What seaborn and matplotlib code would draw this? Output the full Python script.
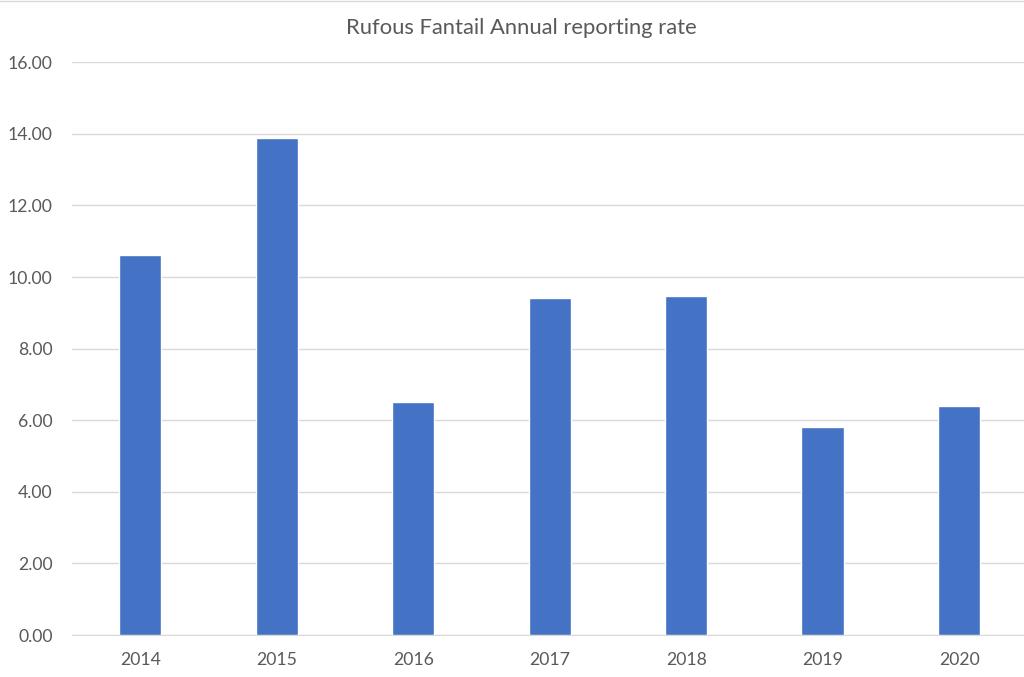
import matplotlib
matplotlib.use("Agg")
import matplotlib.pyplot as plt
import seaborn as sns
import pandas as pd

years = ["2014", "2015", "2016", "2017", "2018", "2019", "2020"]
rates = [10.62, 13.88, 6.51, 9.41, 9.46, 5.81, 6.40]

df = pd.DataFrame({"year": years, "rate": rates})

sns.set_style("white")
plt.rcParams["font.family"] = ["Lato", "DejaVu Sans"]

grey = "#595959"
fig = plt.figure(figsize=(10.24, 6.77), dpi=100)
ax = fig.add_axes([0.0703, 0.062, 0.933, 0.846])

sns.barplot(data=df, x="year", y="rate", color="#4472C4", saturation=1,
            width=0.31, ax=ax, zorder=3)

ax.set_ylim(0, 16)
ax.set_xlim(-0.5, 6.5)
ax.set_yticks(range(0, 17, 2))
ax.set_yticklabels([f"{v:.2f}" for v in range(0, 17, 2)])
ax.yaxis.grid(True, color="#d9d9d9", linewidth=1, zorder=0)
ax.set_axisbelow(True)
for s in ["top", "right", "left"]:
    ax.spines[s].set_visible(False)
ax.spines["bottom"].set_color("#d9d9d9")
ax.tick_params(axis="both", colors=grey, labelsize=12.7, length=0, pad=14)
ax.tick_params(axis="x", pad=12)
ax.set_xlabel("")
ax.set_ylabel("")

fig.text(0.509, 0.958, "Rufous Fantail Annual reporting rate", ha="center",
         va="center", fontsize=15.8, color=grey)
fig.add_artist(plt.Line2D([0, 1], [0.998, 0.998], color="#d9d9d9", linewidth=1))

fig.savefig("out.png", dpi=100)
